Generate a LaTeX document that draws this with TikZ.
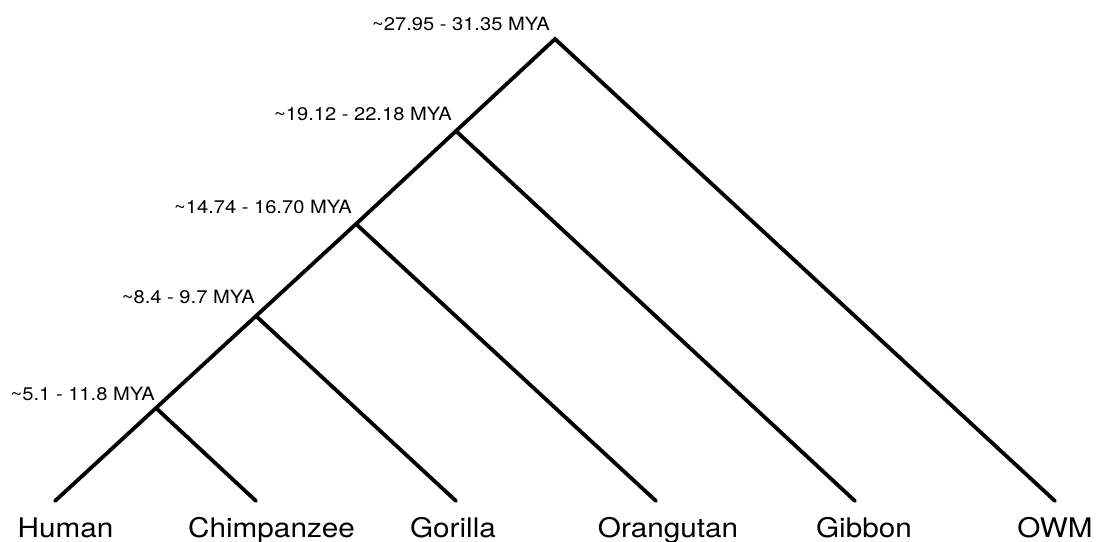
\documentclass[tikz,border=0pt]{standalone}
\usepackage{fontspec}
\setmainfont{TeX Gyre Heros}[FakeStretch=1.1]
\begin{document}
\begin{tikzpicture}[x=1pt,y=-1pt,
  branch/.style={line width=3.8pt, line cap=round, line join=miter},
  taxon/.style={anchor=base, inner sep=0pt, font=\fontsize{27}{30}\selectfont},
  age/.style={anchor=base east, inner sep=0pt, font=\fontsize{18.3}{20}\selectfont}]
\useasboundingbox (0,0) rectangle (1097,541);

% branching points along the main spine
\coordinate (root) at (555,39);
\coordinate (n2) at (456,131);
\coordinate (n3) at (356,224);
\coordinate (n4) at (256,316);
\coordinate (n5) at (156,408);

% branch tips
\coordinate (tHuman) at (55,501);
\coordinate (tChimp) at (256,501);
\coordinate (tGorilla) at (456,501);
\coordinate (tOrang) at (656,501);
\coordinate (tGibbon) at (855,501);
\coordinate (tOWM) at (1055,501);

% tree
\draw[branch] (tHuman) -- (n5) -- (n4) -- (n3) -- (n2) -- (root) -- (tOWM);
\draw[branch] (n5) -- (tChimp);
\draw[branch] (n4) -- (tGorilla);
\draw[branch] (n3) -- (tOrang);
\draw[branch] (n2) -- (tGibbon);

% taxon names
\node[taxon] (human) at (65.5,537) {Human};
\node[taxon] (chimp) at (271.5,537) {Chimpanzee};
\node[taxon] (gorilla) at (453,537) {Gorilla};
\node[taxon] (orang) at (668,537) {Orangutan};
\node[taxon] (gibbon) at (864,537) {Gibbon};
\node[taxon] (owm) at (1055,537) {OWM};

% divergence times
\node[age] (aRoot) at (550,30) {\textasciitilde27.95 - 31.35 MYA};
\node[age] (a2) at (452,120) {\textasciitilde19.12 - 22.18 MYA};
\node[age] (a3) at (352,213) {\textasciitilde14.74 - 16.70 MYA};
\node[age] (a4) at (255,303) {\textasciitilde8.4 - 9.7 MYA};
\node[age] (a5) at (155,400) {\textasciitilde5.1 - 11.8 MYA};
\end{tikzpicture}
\end{document}
